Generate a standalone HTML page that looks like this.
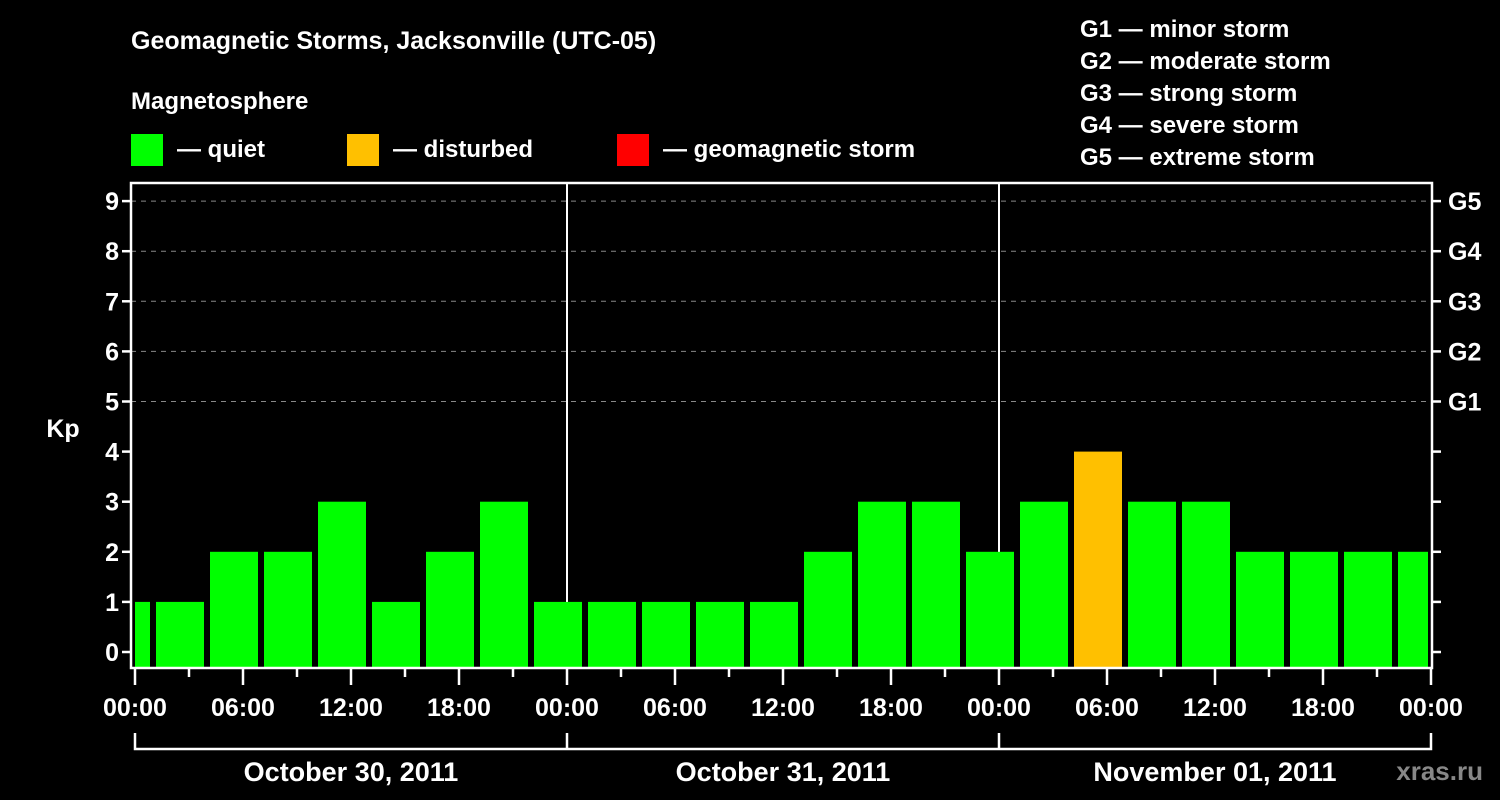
<!DOCTYPE html>
<html><head><meta charset="utf-8"><style>
html,body{margin:0;padding:0;background:#000;}
svg{display:block;font-family:"Liberation Sans",sans-serif;font-weight:bold;}
</style></head><body>
<svg id="chart" width="1500" height="800" viewBox="0 0 1500 800" xmlns="http://www.w3.org/2000/svg">
<rect width="1500" height="800" fill="#000"/>
<text x="131" y="49" fill="#fff" font-size="25">Geomagnetic Storms, Jacksonville (UTC-05)</text>
<text x="131" y="109" fill="#fff" font-size="24">Magnetosphere</text>
<g><rect x="131" y="134" width="32" height="32" fill="#00ff00"/><text x="177" y="157" fill="#fff" font-size="24">— quiet</text></g>
<g><rect x="347" y="134" width="32" height="32" fill="#ffc000"/><text x="393" y="157" fill="#fff" font-size="24">— disturbed</text></g>
<g><rect x="617" y="134" width="32" height="32" fill="#ff0000"/><text x="663" y="157" fill="#fff" font-size="24">— geomagnetic storm</text></g>
<g fill="#fff" font-size="24">
<text x="1080" y="37">G1 — minor storm</text>
<text x="1080" y="69">G2 — moderate storm</text>
<text x="1080" y="101">G3 — strong storm</text>
<text x="1080" y="133">G4 — severe storm</text>
<text x="1080" y="165">G5 — extreme storm</text>
</g>
<text x="63" y="437" fill="#fff" font-size="25" text-anchor="middle">Kp</text>
<text x="1483" y="780" fill="#888" font-size="26" text-anchor="end">xras.ru</text>
<g id="grid"></g><g id="bars"></g><g id="axes"></g>
</svg>
<script>
const barStarts = [-2,1,4,7,10,13,16,19,22,25,28,31,34,37,40,43,46,49,52,55,58,61,64,67,70];
const kpValues = [1,1,2,2,3,1,2,3,1,1,1,1,1,2,3,3,2,3,4,3,3,2,2,2,2];
const yTicks = [0,1,2,3,4,5,6,7,8,9];
const gLabels = ["G1","G2","G3","G4","G5"];
const xTickLabels = ["00:00","06:00","12:00","18:00","00:00","06:00","12:00","18:00","00:00","06:00","12:00","18:00","00:00"];
const dayLabels = ["October 30, 2011","October 31, 2011","November 01, 2011"];

const NS="http://www.w3.org/2000/svg";
const X0=135, HR=18, Y0=652, UNIT=50.1, TOP=183, BOT=668, LEFT=131, RIGHT=1432;
const xs=h=>X0+h*HR, ys=v=>Y0-v*UNIT;
function mk(p,tag,a){const e=document.createElementNS(NS,tag);for(const k in a)e.setAttribute(k,a[k]);document.getElementById(p).appendChild(e);return e;}

[5,6,7,8,9].forEach(v=>{const e=mk('grid','line',{x1:LEFT,x2:RIGHT,y1:ys(v),y2:ys(v),stroke:'#888','stroke-width':1,'stroke-dasharray':'5,5'});

});
[1,2].forEach(d=>{const e=mk('grid','line',{x1:xs(24*d),x2:xs(24*d),y1:TOP,y2:BOT,stroke:'#fff','stroke-width':2});

});

barStarts.forEach((s,i)=>{
  const v=kpValues[i];
  let x1=xs(s)+3, x2=xs(s+3)-3;
  if(x1<X0) x1=X0; if(x2>xs(72)-3) x2=xs(72)-3;
  const col=v>=5?'#ff0000':(v>=4?'#ffc000':'#00ff00');
  const r=mk('bars','rect',{x:x1,y:ys(v),width:x2-x1,height:BOT-ys(v),fill:col});
  
  
});

const fr=mk('axes','rect',{x:LEFT,y:TOP,width:RIGHT-LEFT,height:BOT-TOP,fill:'none',stroke:'#fff','stroke-width':2.5});


yTicks.forEach(v=>{
  mk('axes','line',{x1:LEFT-9,x2:LEFT,y1:ys(v),y2:ys(v),stroke:'#fff','stroke-width':2.5});
  mk('axes','line',{x1:RIGHT,x2:RIGHT+9,y1:ys(v),y2:ys(v),stroke:'#fff','stroke-width':2.5});
  const t=mk('axes','text',{x:LEFT-12,y:ys(v)+9,fill:'#fff','font-size':25,'text-anchor':'end'});
  t.textContent=v;
  
  
});
gLabels.forEach((g,i)=>{
  const t=mk('axes','text',{x:RIGHT+16,y:ys(5+i)+9,fill:'#fff','font-size':25});
  t.textContent=g;
  
  
});
for(let h=0;h<=72;h+=3){
  const major=h%6===0;
  mk('axes','line',{x1:xs(h),x2:xs(h),y1:BOT,y2:BOT+(major?17:9),stroke:'#fff','stroke-width':2.5});
}
xTickLabels.forEach((l,i)=>{
  const t=mk('axes','text',{x:xs(i*6),y:716,fill:'#fff','font-size':25,'text-anchor':'middle'});
  t.textContent=l;
  
  
});
mk('axes','path',{d:`M${xs(0)},733 V749 H${xs(72)} V733 M${xs(24)},733 V749 M${xs(48)},733 V749`,stroke:'#fff','stroke-width':2.5,fill:'none'});
dayLabels.forEach((l,i)=>{
  const t=mk('axes','text',{x:xs(i*24+12),y:781,fill:'#fff','font-size':27,'text-anchor':'middle'});
  t.textContent=l;
  
  
});
</script>
</body></html>
